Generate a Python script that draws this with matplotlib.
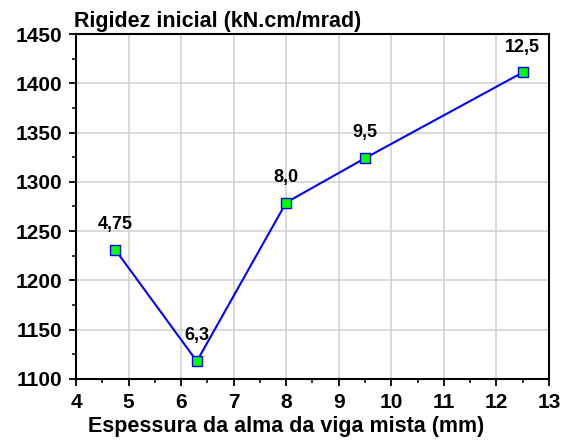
import matplotlib.pyplot as plt
from matplotlib.ticker import MultipleLocator

plt.rcParams.update({"font.family": "Liberation Sans", "font.weight": "bold"})

espessura = [4.75, 6.3, 8.0, 9.5, 12.5]
rigidez = [1231, 1118, 1279, 1324, 1411]
rotulos = ["4,75", "6,3", "8,0", "9,5", "12,5"]

fig = plt.figure(figsize=(5.7, 4.41), dpi=100)
ax = fig.add_axes([0.1333, 0.1406, 0.8297, 0.7823])

ax.plot(espessura, rigidez, color="blue", lw=1.5, marker="s", ms=6.5,
        mfc="#00ff00", mec="blue", mew=1, zorder=3)
for x, y, t in zip(espessura, rigidez, rotulos):
    ax.annotate(t, (x, y), xytext=(0, 15), textcoords="offset points",
                ha="center", va="baseline", fontsize=13, fontweight="bold")

ax.set_xlim(4, 13)
ax.set_ylim(1100, 1450)
ax.xaxis.set_major_locator(MultipleLocator(1))
ax.xaxis.set_minor_locator(MultipleLocator(0.5))
ax.yaxis.set_major_locator(MultipleLocator(50))
ax.yaxis.set_minor_locator(MultipleLocator(25))
ax.grid(True, which="major", color="#cfcfcf", lw=1.1)
ax.set_axisbelow(True)

ax.tick_params(which="major", direction="out", length=5, width=1.3, labelsize=15)
ax.tick_params(axis="y", which="major", pad=5)
ax.tick_params(axis="x", which="major", pad=5)
ax.tick_params(which="minor", direction="out", length=3, width=1.1)
for lab in ax.get_xticklabels() + ax.get_yticklabels():
    lab.set_fontweight("bold")
for s in ax.spines.values():
    s.set_linewidth(1.5)

ax.set_xlabel("Espessura da alma da viga mista (mm)", fontsize=15.5, fontweight="bold")
ax.xaxis.set_label_coords(0.444, -0.108)
ax.text(-0.004, 1.02, "Rigidez inicial (kN.cm/mrad)", transform=ax.transAxes,
        fontsize=15.5, fontweight="bold", ha="left", va="baseline")

fig.savefig("out.png", dpi=100)
